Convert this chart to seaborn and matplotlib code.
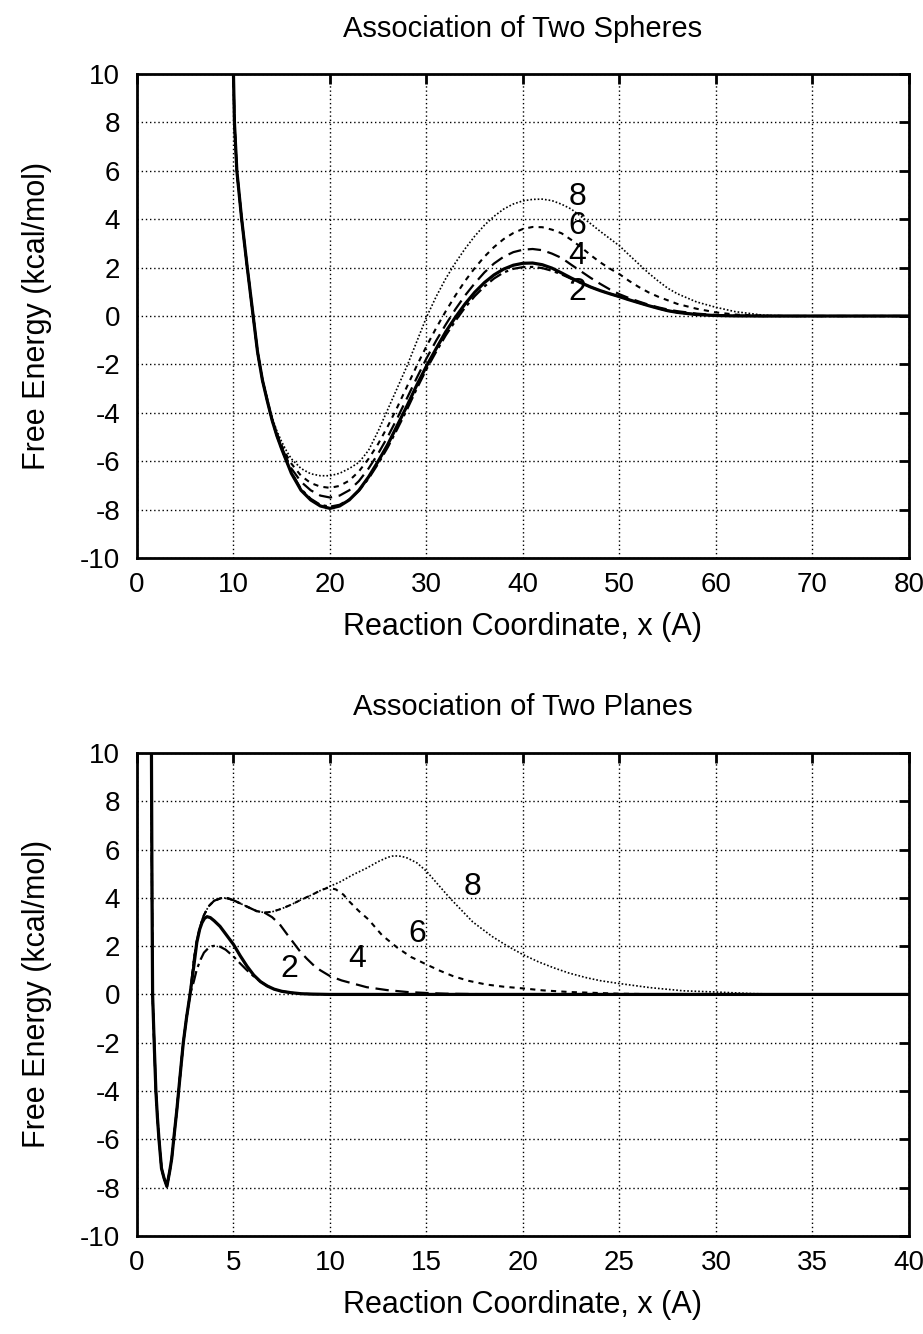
import numpy as np
import pandas as pd
import matplotlib
matplotlib.use("Agg")
import matplotlib.pyplot as plt
import seaborn as sns

# ---------------- Data: Association of Two Spheres ----------------
sph_x_s = [10, 10.1, 10.35, 10.85, 11.4, 11.95, 12.5, 13, 13.5, 14, 14.5, 15, 15.5, 16, 17, 18, 19, 20,
           21, 22, 23, 24, 25, 26, 27, 28, 29, 30, 31, 32, 33, 34, 35, 36, 37, 38, 39, 40,
           41, 42, 43, 44, 45, 46, 47, 48, 49, 50, 51, 52, 53, 54, 55, 56, 58, 60, 62, 65, 68, 80]
sph_y_solid = [10, 8, 6, 4, 2.1, 0.3, -1.5, -2.65, -3.5, -4.3, -4.95, -5.5, -6.0, -6.5, -7.2, -7.6, -7.85, -7.95,
               -7.85, -7.6, -7.2, -6.65, -6.0, -5.3, -4.5, -3.7, -2.85, -2.07, -1.35, -0.65, -0.05, 0.5, 0.98,
               1.38, 1.7, 1.94, 2.1, 2.18, 2.19, 2.12, 1.98, 1.78, 1.57, 1.38, 1.2, 1.05, 0.92, 0.8,
               0.67, 0.55, 0.43, 0.32, 0.22, 0.15, 0.06, 0.02, 0.005, 0.0, 0.0, 0.0]
sph_y_dashdot = [10, 8, 6, 4, 2.1, 0.3, -1.5, -2.65, -3.5, -4.3, -4.95, -5.5, -6.0, -6.45, -7.15, -7.55, -7.8, -7.88,
                 -7.8, -7.58, -7.22, -6.72, -6.1, -5.42, -4.65, -3.85, -3.0, -2.2, -1.48, -0.8, -0.2, 0.35, 0.82,
                 1.22, 1.55, 1.8, 1.95, 2.02, 2.03, 1.98, 1.87, 1.72, 1.54, 1.37, 1.2, 1.05, 0.92, 0.8,
                 0.67, 0.55, 0.43, 0.32, 0.22, 0.15, 0.06, 0.02, 0.005, 0.0, 0.0, 0.0]
sph_y_4 = [10, 8, 6, 4, 2.1, 0.3, -1.5, -2.65, -3.5, -4.28, -4.9, -5.42, -5.88, -6.3, -6.85, -7.2, -7.42, -7.5,
           -7.42, -7.2, -6.82, -6.3, -5.68, -4.98, -4.2, -3.38, -2.55, -1.75, -1.02, -0.35, 0.28, 0.85, 1.35,
           1.8, 2.17, 2.45, 2.64, 2.74, 2.77, 2.72, 2.58, 2.4, 2.12, 1.85, 1.58, 1.33, 1.1, 0.9,
           0.74, 0.6, 0.47, 0.36, 0.27, 0.2, 0.1, 0.04, 0.01, 0.0, 0.0, 0.0]
sph_y_6 = [10, 8, 6, 4, 2.1, 0.3, -1.5, -2.62, -3.45, -4.25, -4.85, -5.35, -5.75, -6.1, -6.6, -6.9, -7.05, -7.1,
           -7.02, -6.8, -6.42, -5.9, -5.28, -4.55, -3.75, -2.9, -2.05, -1.25, -0.5, 0.2, 0.85, 1.45, 1.98,
           2.45, 2.85, 3.18, 3.43, 3.6, 3.68, 3.67, 3.57, 3.42, 3.15, 2.85, 2.52, 2.22, 1.96, 1.73,
           1.45, 1.2, 0.98, 0.8, 0.65, 0.5, 0.3, 0.15, 0.06, 0.01, 0.0, 0.0]
sph_y_8 = [10, 8, 6, 4, 2.1, 0.3, -1.5, -2.6, -3.4, -4.2, -4.75, -5.2, -5.58, -5.9, -6.3, -6.52, -6.6, -6.6,
           -6.5, -6.3, -6.05, -5.55, -4.75, -3.85, -2.95, -2.05, -1.05, -0.05, 0.8, 1.55, 2.2, 2.78, 3.3,
           3.75, 4.12, 4.42, 4.63, 4.76, 4.82, 4.83, 4.77, 4.62, 4.42, 4.12, 3.82, 3.5, 3.2, 2.9,
           2.52, 2.15, 1.78, 1.45, 1.15, 0.92, 0.58, 0.36, 0.18, 0.03, 0.0, 0.0]

sph_labels = ["2", "4", "6", "8"]
sph_label_x = [45.6, 45.6, 45.6, 45.6]
sph_label_y = [1.0, 2.5, 3.7, 4.9]

# ---------------- Data: Association of Two Planes ----------------
pl_x_well = [0.75, 0.78, 0.81, 0.9, 0.98, 1.06, 1.14, 1.27, 1.4, 1.55, 1.7, 1.8, 1.93, 2.07, 2.23, 2.4, 2.57, 2.75]
pl_y_well = [10, 4, 0, -2.2, -4, -5.1, -6, -7.2, -7.6, -7.95, -7.3, -6.8, -5.8, -4.75, -3.4, -2.0, -0.95, 0.0]

pl_x_solid = [2.95, 3.1, 3.25, 3.37, 3.5, 3.63, 3.8, 4.0, 4.3, 4.6, 5.0, 5.35, 5.7, 6.05, 6.4, 6.75, 7.1, 7.5, 8.0, 8.5, 9.0, 10.0, 40.0]
pl_y_solid = [1.2, 2.15, 2.7, 2.97, 3.15, 3.22, 3.18, 3.05, 2.82, 2.5, 2.07, 1.6, 1.17, 0.8, 0.53, 0.35, 0.22, 0.13, 0.07, 0.03, 0.015, 0.0, 0.0]

pl_x_dashdot = [2.95, 3.1, 3.3, 3.47, 3.7, 3.9, 4.1, 4.25, 4.6, 5.0, 5.35, 5.7, 6.05, 6.4, 6.75, 7.1, 7.5, 8.0, 8.5, 9.0, 10.0, 40.0]
pl_y_dashdot = [0.55, 1.04, 1.45, 1.73, 1.92, 2.0, 2.02, 2.0, 1.85, 1.57, 1.28, 1.0, 0.75, 0.53, 0.35, 0.22, 0.13, 0.07, 0.03, 0.015, 0.0, 0.0]

pl_x_group = [2.95, 3.1, 3.27, 3.45, 3.7, 4.0, 4.4, 4.7, 5.0, 5.4, 5.85, 6.2, 6.6]
pl_y_group = [1.45, 2.2, 2.8, 3.25, 3.64, 3.88, 4.0, 3.98, 3.9, 3.75, 3.58, 3.45, 3.39]

pl_x_4 = [7.0, 7.4, 7.75, 8.1, 8.45, 8.8, 9.2, 9.5, 10.0, 10.6, 11.2, 11.9, 12.95, 14.0, 15.0, 16.0, 18.0, 20.0, 40.0]
pl_y_4 = [3.2, 2.9, 2.52, 2.15, 1.78, 1.48, 1.17, 1.0, 0.76, 0.58, 0.45, 0.3, 0.18, 0.1, 0.06, 0.03, 0.01, 0.0, 0.0]

pl_x_6 = [7.0, 7.5, 8.0, 8.45, 9.0, 9.5, 9.9, 10.3, 10.7, 11.0, 11.5, 12.0, 12.7, 13.5, 14.2, 15.0, 15.7, 16.4,
          17.2, 18.1, 19.0, 20.0, 21.0, 22.4, 25.0, 27.0, 30.0, 40.0]
pl_y_6 = [3.42, 3.55, 3.72, 3.9, 4.1, 4.3, 4.42, 4.35, 4.13, 3.85, 3.45, 3.1, 2.45, 1.93, 1.55, 1.24, 0.98, 0.75,
          0.56, 0.41, 0.32, 0.25, 0.17, 0.1, 0.03, 0.01, 0.0, 0.0]

pl_x_8 = [7.0, 7.5, 8.0, 8.45, 9.0, 9.5, 10.0, 10.5, 11.2, 11.9, 12.5, 13.0, 13.3, 13.7, 14.0, 14.5, 15.0, 15.6,
          16.2, 16.8, 17.4, 18.4, 19.2, 20.0, 20.8, 21.6, 22.4, 23.3, 24.0, 25.0, 26.6, 28.3, 30.0, 32.0, 34.0, 36.0, 40.0]
pl_y_8 = [3.42, 3.55, 3.72, 3.9, 4.1, 4.3, 4.48, 4.65, 4.96, 5.23, 5.5, 5.68, 5.74, 5.72, 5.65, 5.45, 5.1, 4.55,
          4.0, 3.5, 3.0, 2.4, 2.0, 1.65, 1.35, 1.1, 0.88, 0.69, 0.57, 0.45, 0.28, 0.15, 0.1, 0.03, 0.01, 0.0, 0.0]

pl_labels = ["2", "4", "6", "8"]
pl_label_x = [7.9, 11.4, 14.5, 17.4]
pl_label_y = [1.05, 1.45, 2.5, 4.45]

x_ticks_top = [0, 10, 20, 30, 40, 50, 60, 70, 80]
x_ticks_bot = [0, 5, 10, 15, 20, 25, 30, 35, 40]
y_ticks = [-10, -8, -6, -4, -2, 0, 2, 4, 6, 8, 10]

# ---------------- Styling ----------------
sns.set_theme(style="white")
plt.rcParams['font.family'] = ['Liberation Sans', 'DejaVu Sans']
plt.rcParams['text.color'] = 'black'
plt.rcParams['axes.labelcolor'] = 'black'
plt.rcParams['xtick.color'] = 'black'
plt.rcParams['ytick.color'] = 'black'

TICK_FS = 20
LABEL_FS = 22
TITLE_FS = 21
NUM_FS = 23
styles = {
    "solid":   dict(linestyle="-", linewidth=2.3),
    "dashdot": dict(dashes=(6, 2, 1.5, 2), linewidth=1.6),
    "d4":      dict(dashes=(6, 3), linewidth=1.6),
    "d6":      dict(dashes=(2.5, 2.5), linewidth=1.5),
    "d8":      dict(dashes=(1, 1.2), linewidth=1.2),
}

fig = plt.figure(figsize=(9.23, 13.34), dpi=100)
ax1 = fig.add_axes([0.1484, 0.5817, 0.8364, 0.3628])
ax2 = fig.add_axes([0.1484, 0.0735, 0.8364, 0.3621])


def draw(ax, x, y, key):
    st = styles[key]
    df = pd.DataFrame({"x": x, "y": y})
    kw = dict(color="black", linewidth=st["linewidth"], estimator=None, sort=False, ax=ax)
    if "dashes" in st:
        line_ax = sns.lineplot(data=df, x="x", y="y", **kw)
        line_ax.lines[-1].set_dashes(st["dashes"])
    else:
        sns.lineplot(data=df, x="x", y="y", linestyle="-", **kw)


# top
draw(ax1, sph_x_s, sph_y_8, "d8")
draw(ax1, sph_x_s, sph_y_6, "d6")
draw(ax1, sph_x_s, sph_y_4, "d4")
draw(ax1, sph_x_s, sph_y_dashdot, "dashdot")
draw(ax1, sph_x_s, sph_y_solid, "solid")
for t, lx, ly in zip(sph_labels, sph_label_x, sph_label_y):
    ax1.text(lx, ly, t, ha="center", va="center", fontsize=NUM_FS, color="black")

# bottom
for key, xs, ys in [("d8", pl_x_8, pl_y_8), ("d6", pl_x_6, pl_y_6), ("d4", pl_x_4, pl_y_4)]:
    draw(ax2, pl_x_well + pl_x_group + xs, pl_y_well + pl_y_group + ys, key)
draw(ax2, pl_x_well + pl_x_dashdot, pl_y_well + pl_y_dashdot, "dashdot")
draw(ax2, pl_x_well + pl_x_solid, pl_y_well + pl_y_solid, "solid")
for t, lx, ly in zip(pl_labels, pl_label_x, pl_label_y):
    ax2.text(lx, ly, t, ha="center", va="center", fontsize=NUM_FS, color="black")

for ax, xt, title in [(ax1, x_ticks_top, "Association of Two Spheres"),
                      (ax2, x_ticks_bot, "Association of Two Planes")]:
    ax.set_xlim(xt[0], xt[-1])
    ax.set_ylim(-10, 10)
    ax.set_xticks(xt)
    ax.set_yticks(y_ticks)
    ax.set_xticklabels([str(v) for v in xt])
    ax.set_yticklabels([str(v) for v in y_ticks])
    ax.grid(True, linestyle=(0, (1, 2)), color="black", linewidth=1.0)
    for s in ax.spines.values():
        s.set_visible(True)
        s.set_linewidth(2.0)
        s.set_color("black")
    ax.tick_params(axis="both", which="major", direction="in", length=7, width=2,
                   top=True, right=True, labelsize=TICK_FS, colors="black")
    ax.tick_params(axis="x", pad=10)
    ax.tick_params(axis="y", pad=12)
    ax.set_xlabel("Reaction Coordinate, x (A)", fontsize=LABEL_FS, labelpad=10, color="black")
    ax.set_ylabel("Free Energy (kcal/mol)", fontsize=LABEL_FS, labelpad=20, color="black")
    ax.set_title(title, fontsize=TITLE_FS, pad=27, color="black")
    ax.set_facecolor("white")

fig.savefig("out.png", dpi=100, facecolor="white")
